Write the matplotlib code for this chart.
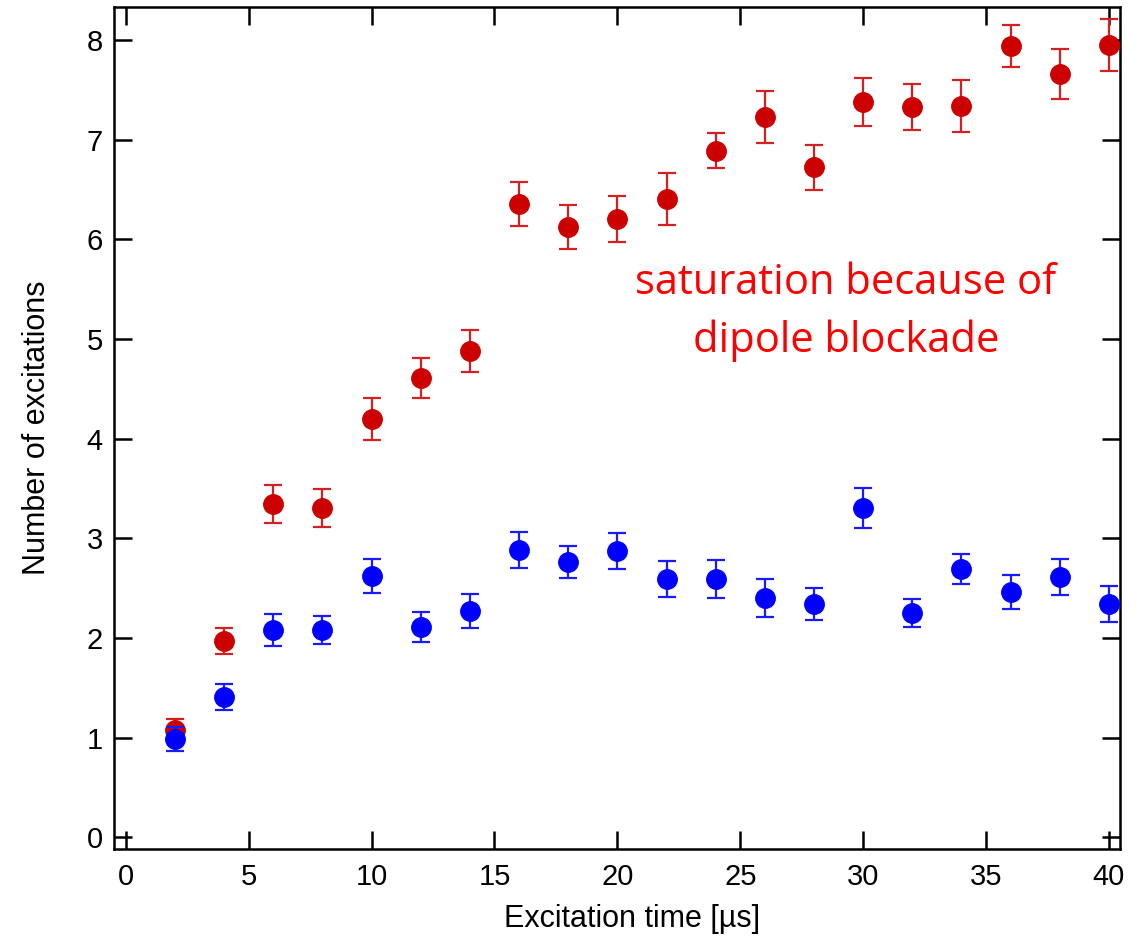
import matplotlib
matplotlib.use("Agg")
import matplotlib.pyplot as plt

# Excitation times (µs)
times = [2, 4, 6, 8, 10, 12, 14, 16, 18, 20, 22, 24, 26, 28, 30, 32, 34, 36, 38, 40]

# Without blockade (red) and with dipole blockade (blue)
red_vals = [1.08, 1.97, 3.34, 3.30, 4.20, 4.61, 4.88, 6.35, 6.12, 6.20,
            6.40, 6.89, 7.23, 6.72, 7.38, 7.33, 7.34, 7.94, 7.66, 7.95]
red_err = [0.11, 0.13, 0.19, 0.19, 0.21, 0.20, 0.21, 0.22, 0.22, 0.23,
           0.26, 0.18, 0.26, 0.23, 0.24, 0.23, 0.26, 0.21, 0.25, 0.26]
blue_vals = [0.99, 1.41, 2.08, 2.08, 2.62, 2.11, 2.27, 2.88, 2.76, 2.87,
             2.59, 2.59, 2.40, 2.34, 3.30, 2.25, 2.69, 2.46, 2.61, 2.34]
blue_err = [0.12, 0.13, 0.16, 0.14, 0.17, 0.15, 0.17, 0.18, 0.16, 0.18,
            0.18, 0.19, 0.19, 0.16, 0.20, 0.14, 0.15, 0.17, 0.18, 0.18]

x_ticks = [0, 5, 10, 15, 20, 25, 30, 35, 40]
y_ticks = [0, 1, 2, 3, 4, 5, 6, 7, 8]

plt.rcParams['font.family'] = ['Liberation Sans', 'DejaVu Sans']

fig = plt.figure(figsize=(11.48, 9.42), dpi=100)
ax = fig.add_axes([0.0993, 0.0987, 0.9756 - 0.0993, 0.9926 - 0.0987])

ax.errorbar(times, red_vals, yerr=red_err, fmt='o', color='#CC0000',
            ecolor='#D42020', markersize=14, capsize=6.5, elinewidth=1.6,
            capthick=1.6, zorder=3)
ax.errorbar(times, blue_vals, yerr=blue_err, fmt='o', color='#0000FF',
            ecolor='#1A1AFF', markersize=14, capsize=6.5, elinewidth=1.6,
            capthick=1.6, zorder=4)

ax.set_xlim(-0.48, 40.45)
ax.set_ylim(-0.117, 8.33)
ax.set_xticks(x_ticks)
ax.set_yticks(y_ticks)
ax.tick_params(direction='in', length=13, width=1.8, top=True, right=True,
               labelsize=21, colors='black')
ax.tick_params(axis='x', pad=10)
ax.tick_params(axis='y', pad=8)
for s in ax.spines.values():
    s.set_linewidth(1.8)

ax.set_xlabel('Excitation time [µs]', fontsize=22, labelpad=13)
ax.xaxis.set_label_coords(0.515, -0.065)
ax.set_ylabel('Number of excitations', fontsize=22, labelpad=25)

ax.text(29.3, 5.27, 'saturation because of\ndipole blockade', color='#FF0000',
        fontsize=30, ha='center', va='center', linespacing=1.5,
        family=['Open Sans', 'DejaVu Sans'])

fig.savefig('out.png', dpi=100)
